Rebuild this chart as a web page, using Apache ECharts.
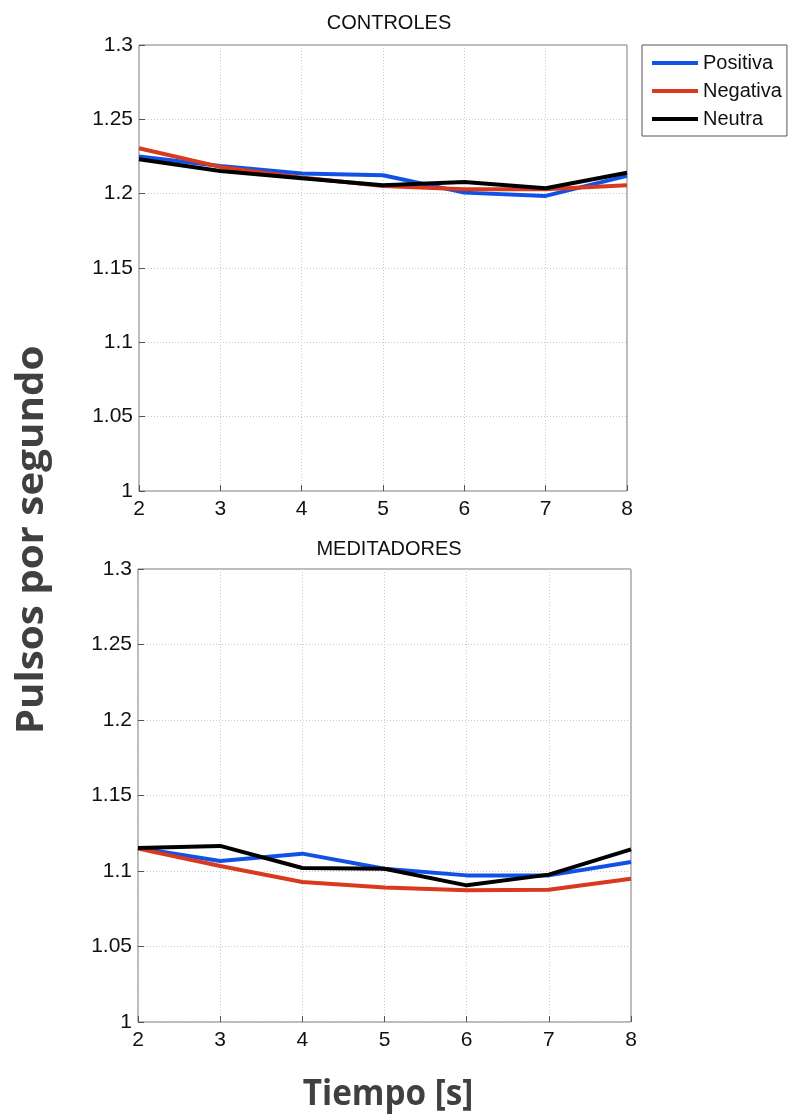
<!DOCTYPE html>
<html><head><meta charset="utf-8">
<script src="https://cdn.jsdelivr.net/npm/echarts@6/dist/echarts.min.js"></script>
<style>html,body{margin:0;padding:0;background:#fff}#c{width:795px;height:1114px}</style>
</head><body><div id="c"></div>
<script>
const xTicks = [2, 3, 4, 5, 6, 7, 8];
const seriesNames = ['Positiva', 'Negativa', 'Neutra'];
const ctrlPositiva = [1.225, 1.2186, 1.2135, 1.2124, 1.2007, 1.1985, 1.212];
const ctrlNegativa = [1.2305, 1.218, 1.2108, 1.2052, 1.203, 1.203, 1.2057];
const ctrlNeutra   = [1.2231, 1.2153, 1.2104, 1.2057, 1.2079, 1.2036, 1.2141];
const medPositiva  = [1.1152, 1.1066, 1.1115, 1.1015, 1.0971, 1.0971, 1.106];
const medNegativa  = [1.1148, 1.1033, 1.0927, 1.089, 1.0872, 1.0876, 1.0949];
const medNeutra    = [1.1152, 1.1166, 1.102, 1.1015, 1.0905, 1.0976, 1.1143];
const colors = ['#1152e6', '#d9391f', '#000000'];

const font = '"Liberation Sans", Arial, sans-serif';
const chart = echarts.init(document.getElementById('c'), null, {renderer: 'canvas'});
function pairs(arr){ return xTicks.map((x,i)=>[x, arr[i]]); }
function xAx(i){ return {type:'value', gridIndex:i, min:2, max:8, interval:1,
  axisLine:{show:false}, axisTick:{inside:true, length:6, lineStyle:{color:'#555'}},
  axisLabel:{fontFamily:font, fontSize:21, color:'#111', margin:8},
  splitLine:{show:true, lineStyle:{color:'#c8c8c8', type:[1,2], width:1}}}; }
function yAx(i){ return {type:'value', gridIndex:i, min:1, max:1.3, interval:0.05,
  axisLine:{show:false}, axisTick:{inside:true, length:6, lineStyle:{color:'#555'}},
  axisLabel:{fontFamily:font, fontSize:21, color:'#111', margin:6,
    formatter: v => String(+v.toFixed(2))},
  splitLine:{show:true, lineStyle:{color:'#c8c8c8', type:[1,2], width:1}}}; }
const data = [[ctrlPositiva, ctrlNegativa, ctrlNeutra],[medPositiva, medNegativa, medNeutra]];
const series = [];
[0,1].forEach(g=>{
  data[g].forEach((arr,k)=>{
    series.push({name: seriesNames[k], type:'line', xAxisIndex:g, yAxisIndex:g,
      data: pairs(arr), showSymbol:false, symbol:'none', animation:false,
      lineStyle:{width:4, color:colors[k]}, itemStyle:{color:colors[k]}, z: 3});
  });
});
chart.setOption({
  animation:false,
  title:[
    {text:'CONTROLES', left:384, top:8, textAlign:'center', textStyle:{fontFamily:font, fontSize:20, fontWeight:'normal', color:'#111'}},
    {text:'MEDITADORES', left:384, top:534, textAlign:'center', textStyle:{fontFamily:font, fontSize:20, fontWeight:'normal', color:'#111'}}
  ],
  grid:[
    {left:139, top:45, width:488, height:446, show:true, borderColor:'#777', borderWidth:1, backgroundColor:'transparent'},
    {left:138, top:569, width:493, height:453, show:true, borderColor:'#777', borderWidth:1, backgroundColor:'transparent'}
  ],
  xAxis:[xAx(0), xAx(1)],
  yAxis:[yAx(0), yAx(1)],
  legend:{show:true, data:seriesNames, orient:'vertical', left:642, top:45, itemWidth:46, itemHeight:4,
    itemGap:8, padding:[8,5,7,10], borderColor:'#555', borderWidth:1, backgroundColor:'#fff',
    icon:'rect', textStyle:{fontFamily:font, fontSize:20, color:'#111'}},
  graphic:[
    {type:'text', x:388, y:1078, scaleX:0.95, style:{text:'Tiempo [s]', font:'bold 35px "Open Sans", sans-serif', fill:'#404040', textAlign:'center', textVerticalAlign:'top'}},
    {type:'text', x:13, y:540, rotation:Math.PI/2, scaleX:1.06, style:{text:'Pulsos por segundo', font:'bold 38px "Open Sans", sans-serif', fill:'#404040', textAlign:'center', textVerticalAlign:'top'}}
  ],
  series: series
});
</script></body></html>
